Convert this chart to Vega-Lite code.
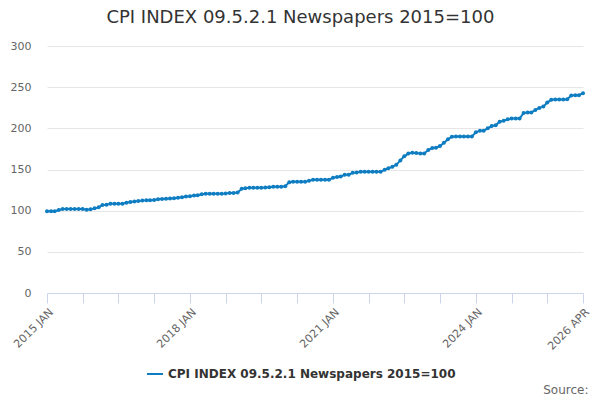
{
  "$schema": "https://vega.github.io/schema/vega-lite/v6.json",
  "autosize": "none",
  "width": 536,
  "height": 247,
  "padding": {"left": 47, "top": 46, "right": 17, "bottom": 107},
  "background": "white",
  "title": {
    "text": "CPI INDEX 09.5.2.1 Newspapers 2015=100",
    "font": "DejaVu Sans",
    "fontSize": 18,
    "fontWeight": "normal",
    "color": "#333333",
    "anchor": "middle",
    "frame": "bounds",
    "offset": 13
  },
  "config": {
    "view": {"stroke": null},
    "font": "DejaVu Sans"
  },
  "data": {
    "values": [
      {"date": "2015-01", "value": 99.2}, {"date": "2015-02", "value": 99.2}, {"date": "2015-03", "value": 99.2},
      {"date": "2015-04", "value": 100.8}, {"date": "2015-05", "value": 102.0}, {"date": "2015-06", "value": 102.0},
      {"date": "2015-07", "value": 102.0}, {"date": "2015-08", "value": 102.0}, {"date": "2015-09", "value": 102.0},
      {"date": "2015-10", "value": 102.0}, {"date": "2015-11", "value": 101.2}, {"date": "2015-12", "value": 101.6},
      {"date": "2016-01", "value": 102.8}, {"date": "2016-02", "value": 104.0}, {"date": "2016-03", "value": 106.9},
      {"date": "2016-04", "value": 107.3}, {"date": "2016-05", "value": 108.5}, {"date": "2016-06", "value": 108.5},
      {"date": "2016-07", "value": 108.5}, {"date": "2016-08", "value": 108.5}, {"date": "2016-09", "value": 109.7},
      {"date": "2016-10", "value": 110.5}, {"date": "2016-11", "value": 111.0}, {"date": "2016-12", "value": 111.7},
      {"date": "2017-01", "value": 112.2}, {"date": "2017-02", "value": 112.6}, {"date": "2017-03", "value": 112.6},
      {"date": "2017-04", "value": 113.0}, {"date": "2017-05", "value": 113.8}, {"date": "2017-06", "value": 114.2},
      {"date": "2017-07", "value": 114.4}, {"date": "2017-08", "value": 114.8}, {"date": "2017-09", "value": 115.2},
      {"date": "2017-10", "value": 115.6}, {"date": "2017-11", "value": 116.4}, {"date": "2017-12", "value": 117.2},
      {"date": "2018-01", "value": 117.6}, {"date": "2018-02", "value": 118.4}, {"date": "2018-03", "value": 118.8},
      {"date": "2018-04", "value": 120.0}, {"date": "2018-05", "value": 120.4}, {"date": "2018-06", "value": 120.4},
      {"date": "2018-07", "value": 120.4}, {"date": "2018-08", "value": 120.4}, {"date": "2018-09", "value": 120.4},
      {"date": "2018-10", "value": 120.8}, {"date": "2018-11", "value": 121.6}, {"date": "2018-12", "value": 121.6},
      {"date": "2019-01", "value": 122.0}, {"date": "2019-02", "value": 126.5}, {"date": "2019-03", "value": 127.3},
      {"date": "2019-04", "value": 127.7}, {"date": "2019-05", "value": 127.7}, {"date": "2019-06", "value": 127.7},
      {"date": "2019-07", "value": 127.7}, {"date": "2019-08", "value": 128.0}, {"date": "2019-09", "value": 128.5},
      {"date": "2019-10", "value": 129.0}, {"date": "2019-11", "value": 129.0}, {"date": "2019-12", "value": 129.0},
      {"date": "2020-01", "value": 129.8}, {"date": "2020-02", "value": 134.6}, {"date": "2020-03", "value": 135.0},
      {"date": "2020-04", "value": 135.0}, {"date": "2020-05", "value": 135.0}, {"date": "2020-06", "value": 135.0},
      {"date": "2020-07", "value": 136.2}, {"date": "2020-08", "value": 137.4}, {"date": "2020-09", "value": 137.4},
      {"date": "2020-10", "value": 137.4}, {"date": "2020-11", "value": 137.4}, {"date": "2020-12", "value": 137.4},
      {"date": "2021-01", "value": 139.9}, {"date": "2021-02", "value": 141.0}, {"date": "2021-03", "value": 141.5},
      {"date": "2021-04", "value": 143.5}, {"date": "2021-05", "value": 143.5}, {"date": "2021-06", "value": 146.0},
      {"date": "2021-07", "value": 146.4}, {"date": "2021-08", "value": 147.2}, {"date": "2021-09", "value": 147.2},
      {"date": "2021-10", "value": 147.2}, {"date": "2021-11", "value": 147.2}, {"date": "2021-12", "value": 147.2},
      {"date": "2022-01", "value": 147.2}, {"date": "2022-02", "value": 149.6}, {"date": "2022-03", "value": 151.6},
      {"date": "2022-04", "value": 153.2}, {"date": "2022-05", "value": 155.7}, {"date": "2022-06", "value": 161.0},
      {"date": "2022-07", "value": 166.0}, {"date": "2022-08", "value": 169.3}, {"date": "2022-09", "value": 170.3},
      {"date": "2022-10", "value": 170.0}, {"date": "2022-11", "value": 169.5}, {"date": "2022-12", "value": 169.5},
      {"date": "2023-01", "value": 173.6}, {"date": "2023-02", "value": 176.0}, {"date": "2023-03", "value": 176.4},
      {"date": "2023-04", "value": 178.5}, {"date": "2023-05", "value": 182.5}, {"date": "2023-06", "value": 186.6},
      {"date": "2023-07", "value": 189.8}, {"date": "2023-08", "value": 190.2}, {"date": "2023-09", "value": 190.2},
      {"date": "2023-10", "value": 190.2}, {"date": "2023-11", "value": 190.2}, {"date": "2023-12", "value": 190.2},
      {"date": "2024-01", "value": 195.1}, {"date": "2024-02", "value": 197.2}, {"date": "2024-03", "value": 197.2},
      {"date": "2024-04", "value": 200.0}, {"date": "2024-05", "value": 202.8}, {"date": "2024-06", "value": 203.7},
      {"date": "2024-07", "value": 208.1}, {"date": "2024-08", "value": 209.3}, {"date": "2024-09", "value": 211.0},
      {"date": "2024-10", "value": 211.8}, {"date": "2024-11", "value": 211.8}, {"date": "2024-12", "value": 211.8},
      {"date": "2025-01", "value": 218.7}, {"date": "2025-02", "value": 219.1}, {"date": "2025-03", "value": 219.1},
      {"date": "2025-04", "value": 222.4}, {"date": "2025-05", "value": 224.8}, {"date": "2025-06", "value": 226.4},
      {"date": "2025-07", "value": 231.3}, {"date": "2025-08", "value": 234.6}, {"date": "2025-09", "value": 235.0},
      {"date": "2025-10", "value": 235.0}, {"date": "2025-11", "value": 235.0}, {"date": "2025-12", "value": 235.4},
      {"date": "2026-01", "value": 239.8}, {"date": "2026-02", "value": 240.2}, {"date": "2026-03", "value": 240.2},
      {"date": "2026-04", "value": 242.7}
    ],
    "format": {"parse": {"date": "date:'%Y-%m'"}}
  },
  "transform": [
    {"calculate": "'CPI INDEX 09.5.2.1 Newspapers 2015=100'", "as": "series"}
  ],
  "mark": {
    "type": "line",
    "strokeWidth": 2,
    "point": {"filled": true, "size": 16}
  },
  "encoding": {
    "x": {
      "field": "date",
      "type": "temporal",
      "scale": {
        "domain": [{"year": 2015, "month": 1}, {"year": 2026, "month": 4}],
        "nice": false
      },
      "axis": {
        "title": "Source:",
        "titleAnchor": "end",
        "titleAlign": "right",
        "titleBaseline": "bottom",
        "titleX": 541,
        "titleY": 103,
        "titleFontSize": 12,
        "titleFontWeight": "normal",
        "titleColor": "#666666",
        "values": [
          {"year": 2015, "month": 1}, {"year": 2015, "month": 10}, {"year": 2016, "month": 7}, {"year": 2017, "month": 4},
          {"year": 2018, "month": 1}, {"year": 2018, "month": 10}, {"year": 2019, "month": 7}, {"year": 2020, "month": 4},
          {"year": 2021, "month": 1}, {"year": 2021, "month": 10}, {"year": 2022, "month": 7}, {"year": 2023, "month": 4},
          {"year": 2024, "month": 1}, {"year": 2024, "month": 10}, {"year": 2025, "month": 7}, {"year": 2026, "month": 4}
        ],
        "labelExpr": "(month(datum.value) == 0 && (year(datum.value) - 2015) % 3 == 0) || (year(datum.value) == 2026 && month(datum.value) == 3) ? upper(timeFormat(datum.value, '%Y %b')) : ''",
        "labelAngle": -45,
        "labelAlign": "right",
        "labelBaseline": "top",
        "labelFontSize": 11,
        "labelColor": "#666666",
        "labelOverlap": false,
        "labelFlush": false,
        "labelBound": false,
        "labelPadding": 3,
        "grid": false,
        "domainColor": "#ccd6eb",
        "tickColor": "#ccd6eb",
        "tickSize": 10
      }
    },
    "y": {
      "field": "value",
      "type": "quantitative",
      "scale": {"domain": [0, 300], "nice": false},
      "axis": {
        "title": null,
        "values": [0, 50, 100, 150, 200, 250, 300],
        "domain": false,
        "ticks": false,
        "labelPadding": 16,
        "labelFontSize": 11,
        "labelColor": "#666666",
        "gridColor": "#e6e6e6"
      }
    },
    "color": {
      "field": "series",
      "type": "nominal",
      "scale": {"range": ["#0f7dc2"]},
      "legend": {
        "title": null,
        "orient": "none",
        "legendX": 99,
        "legendY": 319,
        "symbolType": "stroke",
        "symbolSize": 256,
        "symbolStrokeWidth": 2,
        "labelFontSize": 12,
        "labelFontWeight": "bold",
        "labelColor": "#333333",
        "labelLimit": 400
      }
    }
  }
}
